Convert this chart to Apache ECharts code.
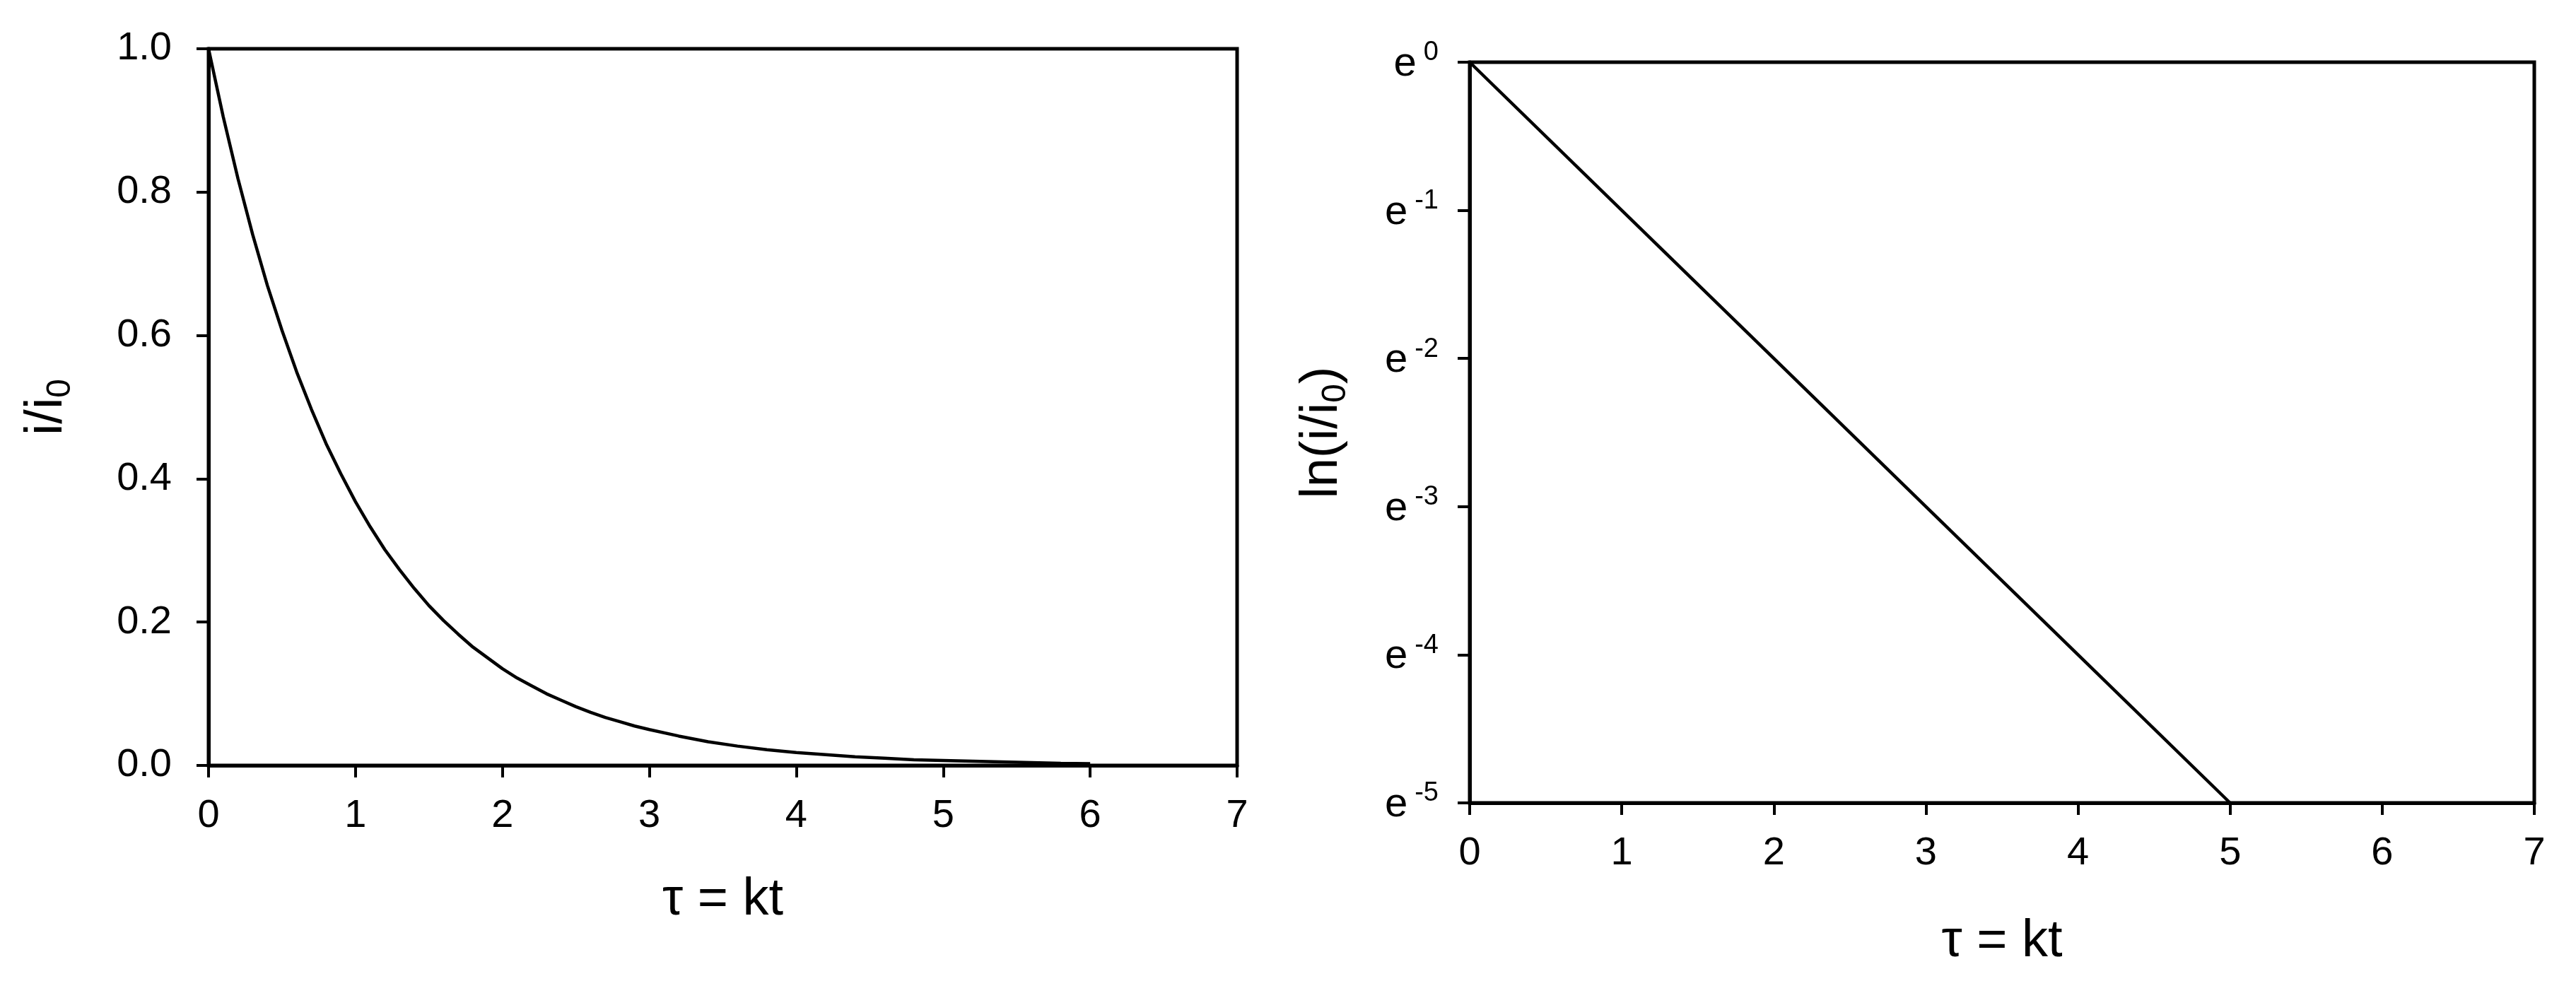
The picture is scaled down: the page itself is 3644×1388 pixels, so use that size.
<!DOCTYPE html>
<html>
<head>
  <meta charset="UTF-8">
  <title>First-order decay</title>
  <script src="https://cdn.jsdelivr.net/npm/echarts@6/dist/echarts.min.js"></script>
  <style>
    html, body { margin: 0; padding: 0; background: #fff; }
  </style>
</head>
<body>
  <div id="main" style="width: 3644px;height:1388px;"></div>
  <script type="text/javascript">
    // left panel: i/i0 against tau
    var leftTau = [0, 0.1, 0.2, 0.3, 0.4, 0.5, 0.6, 0.7, 0.8, 0.9, 1.0, 1.1, 1.2, 1.3, 1.4, 1.5,
      1.6, 1.7, 1.8, 1.9, 2.0, 2.1, 2.2, 2.3, 2.4, 2.5, 2.6, 2.7, 2.8, 2.9, 3.0, 3.2, 3.4, 3.6,
      3.8, 4.0, 4.2, 4.4, 4.6, 4.8, 5.0, 5.2, 5.4, 5.6, 5.8, 6.0];
    var leftRatio = [1.000, 0.905, 0.819, 0.741, 0.670, 0.607, 0.549, 0.497, 0.449, 0.407, 0.368,
      0.333, 0.301, 0.273, 0.247, 0.223, 0.202, 0.183, 0.165, 0.150, 0.135, 0.122, 0.111, 0.100,
      0.091, 0.082, 0.074, 0.067, 0.061, 0.055, 0.050, 0.041, 0.033, 0.027, 0.022, 0.018, 0.015,
      0.012, 0.010, 0.008, 0.007, 0.006, 0.005, 0.004, 0.003, 0.0025];

    // right panel: ln(i/i0) against tau
    var rightTau = [0, 1, 2, 3, 4, 5];
    var rightLnRatio = [0, -1, -2, -3, -4, -5];

    // tick labels
    var leftYLabels = ['0.0', '0.2', '0.4', '0.6', '0.8', '1.0'];
    var rightYExps = ['-5', '-4', '-3', '-2', '-1', '0'];
    var xLabels = ['0', '1', '2', '3', '4', '5', '6', '7'];

    var font = '"Liberation Sans", Arial, sans-serif';
    var black = '#000';

    function pairs(xs, ys) {
      return xs.map(function (x, i) { return [x, ys[i]]; });
    }

    var myChart = echarts.init(document.getElementById('main'));

    var xAxisCommon = {
      type: 'value',
      min: 0,
      max: 7,
      interval: 1,
      nameLocation: 'middle',
      name: 'τ = kt',
      nameTextStyle: { fontFamily: font, fontSize: 74, color: black },
      axisLine: { show: true, onZero: false, lineStyle: { color: black, width: 5 } },
      axisTick: { show: true, length: 17, lineStyle: { color: black, width: 4 } },
      axisLabel: {
        fontFamily: font, fontSize: 56, color: black, margin: 44,
        formatter: function (v) { return xLabels[Math.round(v)]; }
      },
      splitLine: { show: false }
    };

    // name rich styles for i/i0 with subscript
    var nameRich = {
      a: { fontFamily: font, fontSize: 74, color: black, lineHeight: 80, verticalAlign: 'top' },
      b: { fontFamily: font, fontSize: 48, color: black, lineHeight: 48, verticalAlign: 'bottom' }
    };

    var option = {
      animation: false,
      backgroundColor: '#fff',
      grid: [
        { left: 295, top: 69, width: 1455, height: 1014, show: true, borderColor: black, borderWidth: 5 },
        { left: 2079, top: 88, width: 1506, height: 1048, show: true, borderColor: black, borderWidth: 5 }
      ],
      xAxis: [
        Object.assign({}, xAxisCommon, { gridIndex: 0, nameGap: 154 }),
        Object.assign({}, xAxisCommon, { gridIndex: 1, nameGap: 160 })
      ],
      yAxis: [
        {
          gridIndex: 0,
          type: 'value',
          min: 0,
          max: 1,
          interval: 0.2,
          name: '{a|i/i}{b|0}',
          nameLocation: 'middle',
          nameRotate: 90,
          nameGap: 185,
          nameTextStyle: { rich: nameRich },
          axisLine: { show: true, onZero: false, lineStyle: { color: black, width: 5 } },
          axisTick: { show: true, length: 17, lineStyle: { color: black, width: 4 } },
          axisLabel: {
            fontFamily: font, fontSize: 56, color: black, margin: 52,
            formatter: function (v) { return leftYLabels[Math.round(v * 5)]; }
          },
          splitLine: { show: false }
        },
        {
          gridIndex: 1,
          type: 'value',
          min: -5,
          max: 0,
          interval: 1,
          name: '{a|ln(i/i}{b|0}{a|)}',
          nameLocation: 'middle',
          nameRotate: 90,
          nameGap: 165,
          nameTextStyle: { rich: nameRich },
          axisLine: { show: true, onZero: false, lineStyle: { color: black, width: 5 } },
          axisTick: { show: true, length: 17, lineStyle: { color: black, width: 4 } },
          axisLabel: {
            margin: 44,
            formatter: function (v) {
              return '{e|e}{s|' + rightYExps[Math.round(v) + 5] + '}';
            },
            rich: {
              e: { fontFamily: font, fontSize: 58, color: black, lineHeight: 64, verticalAlign: 'bottom' },
              s: { fontFamily: font, fontSize: 38, color: black, lineHeight: 38, verticalAlign: 'top', padding: [0, 0, 0, 10] }
            }
          },
          splitLine: { show: false }
        }
      ],
      series: [
        {
          type: 'line',
          xAxisIndex: 0,
          yAxisIndex: 0,
          data: pairs(leftTau, leftRatio),
          showSymbol: false,
          lineStyle: { color: black, width: 4.5 },
          silent: true
        },
        {
          type: 'line',
          xAxisIndex: 1,
          yAxisIndex: 1,
          data: pairs(rightTau, rightLnRatio),
          showSymbol: false,
          lineStyle: { color: black, width: 4.5 },
          silent: true
        }
      ]
    };

    myChart.setOption(option);
  </script>
</body>
</html>
